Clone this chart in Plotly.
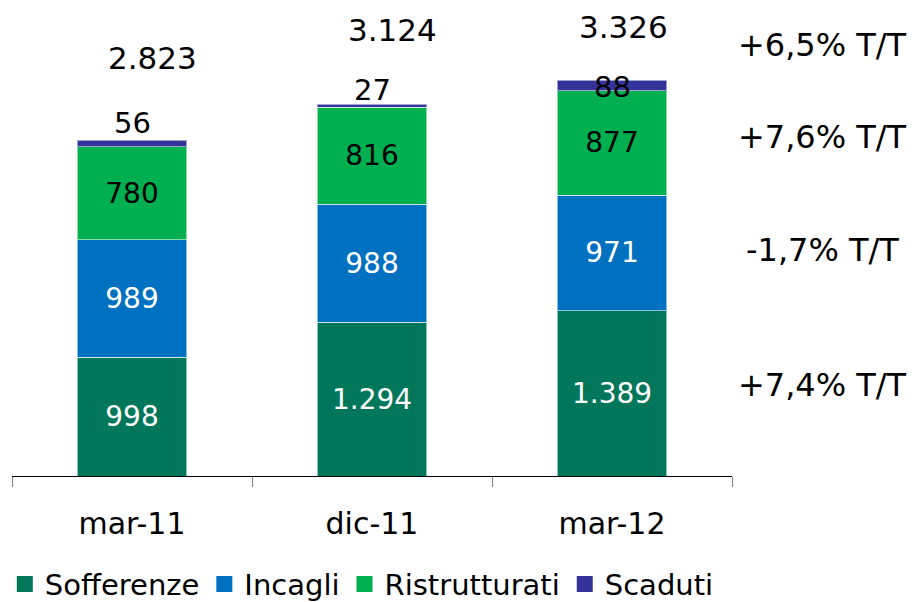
import plotly.graph_objects as go

categories = ["mar-11", "dic-11", "mar-12"]
sofferenze = [998, 1294, 1389]
incagli = [989, 988, 971]
ristrutturati = [780, 816, 877]
scaduti = [56, 27, 88]
totals = [2823, 3124, 3326]
change_labels = ["+6,5% T/T", "+7,6% T/T", "-1,7% T/T", "+7,4% T/T"]

FONT = "DejaVu Sans"
FS = 28

def it_fmt(v):
    return f"{v:,.0f}".replace(",", ".")

fig = go.Figure()
series = [
    ("Sofferenze", sofferenze, "#00775A", "white"),
    ("Incagli", incagli, "#0070C0", "white"),
    ("Ristrutturati", ristrutturati, "#00B050", "black"),
    ("Scaduti", scaduti, "#333399", "black"),
]
for name, vals, col, tcol in series:
    fig.add_trace(go.Bar(
        x=categories, y=vals, name=name, showlegend=False,
        marker=dict(color=col, line=dict(color="rgba(255,255,255,0.55)", width=1)),
        text=[it_fmt(v) for v in vals] if name != "Scaduti" else None,
        textposition="inside" if name != "Scaduti" else "none",
        insidetextanchor="middle", textangle=0,
        textfont=dict(family=FONT, size=FS, color=tcol),
        constraintext="none",
        hoverinfo="skip",
    ))
# legend entries with larger square symbols
for name, vals, col, tcol in series:
    fig.add_trace(go.Scatter(
        x=[None], y=[None], mode="markers", name=name,
        marker=dict(symbol="square", size=16, color=col),
        hoverinfo="skip",
    ))

annotations = []
sc_shift = [17, 14, -7]
tot_shift = [82, 74, 53]
tot_xshift = [20, 20, 11]
for i, cat in enumerate(categories):
    stack_top = sofferenze[i] + incagli[i] + ristrutturati[i] + scaduti[i]
    annotations.append(dict(x=cat, y=stack_top, xref="x", yref="y", text=it_fmt(scaduti[i]),
                            showarrow=False, yanchor="middle", yshift=sc_shift[i],
                            font=dict(family=FONT, size=29, color="black")))
    annotations.append(dict(x=cat, y=stack_top, xref="x", yref="y", text=it_fmt(totals[i]),
                            showarrow=False, yanchor="middle", yshift=tot_shift[i], xshift=tot_xshift[i],
                            font=dict(family=FONT, size=31, color="black")))

right_y = [0.925, 0.7275, 0.485, 0.195]
for lbl, yy in zip(change_labels, right_y):
    annotations.append(dict(x=1.125, y=yy, xref="paper", yref="paper", text=lbl, showarrow=False,
                            xanchor="center", yanchor="middle",
                            font=dict(family=FONT, size=32, color="black")))

# page has an 8px body margin, so the figure is sized to fit inside the window
fig.update_layout(
    width=907, height=594,
    margin=dict(l=4, r=183, t=2, b=126, autoexpand=False),
    barmode="stack", bargap=0.545,
    plot_bgcolor="white", paper_bgcolor="white",
    separators=",.",
    font=dict(family=FONT, size=FS, color="black"),
    showlegend=True,
    legend=dict(orientation="h", x=-0.01, y=-0.232, xanchor="left", yanchor="middle",
                font=dict(family=FONT, size=29, color="black"), traceorder="normal",
                bgcolor="rgba(0,0,0,0)"),
    annotations=annotations,
    xaxis=dict(type="category", range=[-0.5, 2.5], tickson="boundaries", ticks="outside",
               ticklen=10, tickcolor="#808080", tickwidth=1, showline=True, linecolor="black",
               linewidth=1, showgrid=False, ticklabelstandoff=21, fixedrange=True,
               tickfont=dict(family=FONT, size=30, color="black")),
    yaxis=dict(visible=False, range=[0, 3916], showgrid=False, fixedrange=True),
)

fig.write_html("out.html")
